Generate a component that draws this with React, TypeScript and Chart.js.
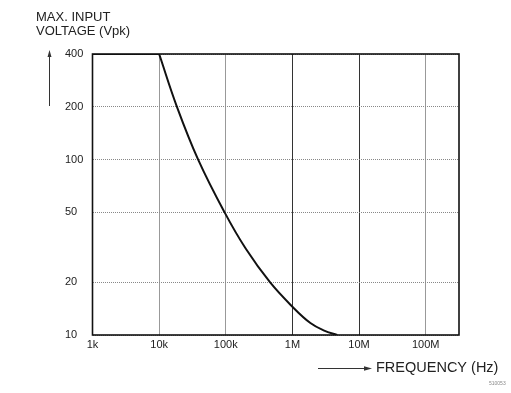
import React, { useEffect, useRef } from "react";
import { Chart, registerables } from "chart.js";

Chart.register(...registerables);

const freqTicks = [1e3, 1e4, 1e5, 1e6, 1e7, 1e8];
const freqLabels = ["1k", "10k", "100k", "1M", "10M", "100M"];
const voltTicks = [10, 20, 50, 100, 200, 400];
// frequency (Hz) and max input voltage (Vpk); index 1 is the corner where the roll-off starts
const freqHz = [1e3, 1e4, 1.85e4, 3.85e4, 9.6e4, 2e5, 4.6e5, 1e6, 1.86e6, 3e6, 4.7e6];
const maxVpk = [400, 400, 200, 100, 50, 31, 20, 14.5, 11.7, 10.6, 10];
const cornerIndex = 1;
const yTitle = ["MAX. INPUT", "VOLTAGE (Vpk)"];
const xTitle = "FREQUENCY (Hz)";
const figId = "510053";

const FONT = "'Liberation Sans', Arial, sans-serif";

const decor = {
  id: "decor",
  afterDraw(chart: any) {
    const { ctx, chartArea: a } = chart;
    ctx.save();
    ctx.strokeStyle = "#111";
    ctx.lineWidth = 1.6;
    ctx.strokeRect(a.left, a.top, a.right - a.left, a.bottom - a.top);
    ctx.fillStyle = "#222";
    ctx.font = `13px ${FONT}`;
    ctx.textBaseline = "alphabetic";
    ctx.textAlign = "left";
    ctx.fillText(yTitle[0], 36, 21);
    ctx.fillText(yTitle[1], 36, 35);
    ctx.strokeStyle = "#333";
    ctx.lineWidth = 1;
    ctx.beginPath();
    ctx.moveTo(49.5, 106);
    ctx.lineTo(49.5, 55);
    ctx.stroke();
    ctx.fillStyle = "#333";
    ctx.beginPath();
    ctx.moveTo(49.5, 50);
    ctx.lineTo(47.5, 57);
    ctx.lineTo(51.5, 57);
    ctx.closePath();
    ctx.fill();
    ctx.beginPath();
    ctx.moveTo(318, 368.5);
    ctx.lineTo(366, 368.5);
    ctx.stroke();
    ctx.beginPath();
    ctx.moveTo(372, 368.5);
    ctx.lineTo(364, 366.3);
    ctx.lineTo(364, 370.7);
    ctx.closePath();
    ctx.fill();
    ctx.fillStyle = "#222";
    ctx.font = `14.5px ${FONT}`;
    ctx.textBaseline = "middle";
    ctx.fillText(xTitle, 376, 368);
    ctx.fillStyle = "#888";
    ctx.font = `5px ${FONT}`;
    ctx.fillText(figId, 489, 384);
    ctx.restore();
  },
};

export default function App() {
  const ref = useRef<HTMLCanvasElement>(null);
  useEffect(() => {
    if (!ref.current) return;
    const pts = freqHz.map((f, i) => ({ x: f, y: maxVpk[i] }));
    const chart = new Chart(ref.current, {
      type: "line",
      data: {
        datasets: [
          {
            data: pts.slice(0, cornerIndex + 1),
            borderColor: "#111",
            borderWidth: 2,
            pointRadius: 0,
            fill: false,
          },
          {
            data: pts.slice(cornerIndex),
            borderColor: "#111",
            borderWidth: 2,
            pointRadius: 0,
            tension: 0.4,
            fill: false,
          },
        ],
      },
      options: {
        responsive: false,
        animation: false,
        events: [],
        layout: { padding: { top: 54, right: 52, left: 65, bottom: 0 } },
        plugins: { legend: { display: false }, tooltip: { enabled: false } },
        scales: {
          x: {
            type: "logarithmic",
            min: 1e3,
            max: 3.16e8,
            afterBuildTicks: (s: any) => {
              s.ticks = freqTicks.map((v) => ({ value: v }));
            },
            afterFit: (s: any) => {
              s.height = 58;
            },
            ticks: {
              autoSkip: false,
              maxRotation: 0,
              padding: 3,
              color: "#222",
              font: { family: FONT, size: 11 },
              callback: (v: any) => {
                const i = freqTicks.indexOf(Number(v));
                return i >= 0 ? freqLabels[i] : "";
              },
            },
            grid: {
              color: (c: any) => (c.tick && (c.tick.value === 1e6 || c.tick.value === 1e7) ? "#333" : "#999"),
              lineWidth: 1,
              drawTicks: false,
            },
            border: { display: false },
          },
          y: {
            type: "logarithmic",
            min: 10,
            max: 400,
            afterBuildTicks: (s: any) => {
              s.ticks = voltTicks.map((v) => ({ value: v }));
            },
            afterFit: (s: any) => {
              s.width = 27.5;
            },
            ticks: {
              autoSkip: false,
              crossAlign: "far",
              padding: 4,
              color: "#222",
              font: { family: FONT, size: 11 },
              callback: (v: any) => String(v),
            },
            grid: {
              color: "#888",
              lineWidth: 1,
              drawTicks: false,
            },
            border: { display: false, dash: [1, 1] },
          },
        },
      } as any,
      plugins: [decor],
    });
    return () => chart.destroy();
  }, []);
  return (
    <div style={{ position: "absolute", left: 0, top: 0, width: 511, height: 393, background: "#fff" }}>
      <canvas ref={ref} width={511} height={393} style={{ width: 511, height: 393 }} />
    </div>
  );
}
